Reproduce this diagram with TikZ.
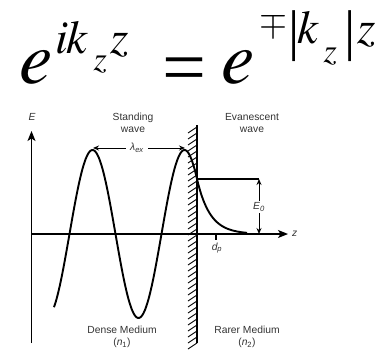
\documentclass[tikz,border=0pt]{standalone}
\usepackage{mathptmx}
\usepackage{fontspec}
\newfontfamily\labelfont{Liberation Sans}
\newfontfamily\eqfont{Liberation Serif}
\usetikzlibrary{arrows.meta}
% place one glyph group: x offset, raise above main baseline, size, text
\newcommand\eqg[4]{\makebox[0pt][l]{\hspace*{#1pt}\raisebox{#2pt}{\fontsize{#3}{#3}\selectfont #4}}}
\begin{document}
\begin{tikzpicture}[x=1pt,y=-1pt,
  lbl/.style={font=\labelfont\fontsize{10.3}{12}\selectfont, align=center, text=black!80, inner sep=0pt},
  ilbl/.style={font=\labelfont\itshape\fontsize{10.3}{12}\selectfont, text=black!80, inner sep=0pt},
  axis/.style={line width=1.3pt, -{Stealth[length=10pt,width=8pt,inset=2.5pt]}},
  wave/.style={line width=1.9pt, line join=round},
  thinline/.style={line width=1.2pt},
  smallarrow/.style={line width=1pt, -{Stealth[length=6pt,width=5pt]}}]
\useasboundingbox (0,0) rectangle (385,351);
% equation (glyphs placed relative to the main baseline)
\node[anchor=base west, inner sep=0pt] (eq) at (0,83) {%
  \eqg{19}{0}{75}{$e$}%
  \eqg{55}{30}{47}{$i$}%
  \eqg{66}{30}{47}{$k$}%
  \eqg{93}{13}{34}{$z$}%
  \eqg{110}{30}{47}{$z$}%
  \eqg{162}{-10}{78}{\eqfont =}%
  \eqg{221}{0}{75}{$e$}%
  \eqg{259}{50}{36}{$\mp$}%
  \eqg{288}{34}{56}{\eqfont |}%
  \eqg{297}{40}{47}{$k$}%
  \eqg{323}{21}{34}{$z$}%
  \eqg{344}{34}{56}{\eqfont |}%
  \eqg{357}{40}{47}{$z$}%
};
% axes
\coordinate (Ebot) at (31.5,343);
\coordinate (Etop) at (31.5,131);
\coordinate (O) at (31.5,234);
\coordinate (Zend) at (288,234);
\draw[axis] (Ebot) -- (Etop);
\draw[axis] (O) -- (Zend);
\node[ilbl] (Elab) at (32,117) {E};
\node[ilbl, anchor=west] (zlab) at (292,234) {z};
% wall
\coordinate (Wt) at (197,125);
\coordinate (Wb) at (197,343);
\draw[thinline] (Wt) -- (Wb);
\foreach \y in {127,133,...,343} \draw[line width=0.9pt] (188,\y+6) -- (197,\y);
% wave
\draw[wave] plot[domain=54:197, samples=150] (\x,{234-84*sin(3.913043*(\x-69.5))})
  -- plot[domain=197:247, samples=50] (\x,{234-55*exp(-(\x-197)/13)});
% E0
\coordinate (Ew) at (197,179);
\coordinate (Et) at (259,179);
\coordinate (Eb) at (259,234);
\draw[thinline] (Ew) -- (Et);
\node[ilbl, fill=white, inner sep=1.5pt] (E0) at (259,207) {E\textsubscript{0}};
\draw[smallarrow] (E0) -- (Et);
\draw[smallarrow] (E0) -- (Eb);
% lambda
\coordinate (L1) at (93,148);
\coordinate (L2) at (185,148);
\node[ilbl, inner sep=4pt] (lam) at (137,148) {λ\textsubscript{ex}};
\draw[smallarrow] (lam) -- (L1);
\draw[smallarrow] (lam) -- (L2);
% dp
\coordinate (dp) at (216,234);
\coordinate (dpe) at (216,240);
\draw[thinline] (dp) -- (dpe);
\node[ilbl] (dplab) at (217,248) {d\textsubscript{p}};
% texts
\node[lbl] (sw) at (133,123) {Standing\\wave};
\node[lbl] (ew) at (252,123) {Evanescent\\wave};
\node[lbl] (dm) at (122,337) {Dense Medium\\(\textit{n}\textsubscript{1})};
\node[lbl] (rm) at (247,337) {Rarer Medium\\(\textit{n}\textsubscript{2})};
\end{tikzpicture}
\end{document}
